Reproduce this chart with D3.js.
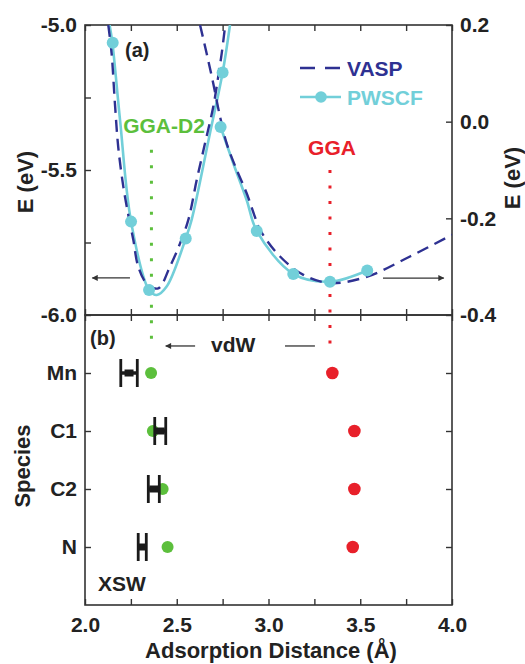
<!DOCTYPE html>
<html><head><meta charset="utf-8">
<script src="https://cdn.jsdelivr.net/npm/d3@7"></script>
<style>
body{margin:0;background:#fff}
svg{display:block}
text{font-family:"Liberation Sans",Arial,Helvetica,sans-serif;font-weight:bold}
</style>
</head><body>
<svg id="c" width="525" height="664"></svg>
<script>
// ---------- data ----------
const xTickVals = [2.0, 2.25, 2.5, 2.75, 3.0, 3.25, 3.5, 3.75, 4.0];
const eLeftTicks = [-6.0, -5.75, -5.5, -5.25, -5.0];
const eRightTicks = [-0.4, -0.2, 0.0, 0.2];
const species = ["Mn", "C1", "C2", "N"];

// (a) GGA-D2 curves (left axis, eV)
const vaspD2X = [2.127, 2.145, 2.163, 2.181, 2.209, 2.236, 2.263, 2.29, 2.336, 2.399, 2.463, 2.518, 2.563, 2.609, 2.654, 2.699, 2.726, 2.745, 2.763];
const vaspD2E = [-5.0, -5.098, -5.27, -5.42, -5.558, -5.655, -5.74, -5.833, -5.891, -5.908, -5.833, -5.753, -5.672, -5.534, -5.408, -5.282, -5.178, -5.098, -5.006];
const pwscfD2LineX = [2.134, 2.149, 2.191, 2.251, 2.349, 2.391, 2.445, 2.549, 2.581, 2.681, 2.750, 2.79];
const pwscfD2LineE = [-5.0, -5.061, -5.328, -5.678, -5.914, -5.931, -5.902, -5.736, -5.672, -5.373, -5.164, -5.0];
const pwscfD2X = [2.151, 2.251, 2.349, 2.549, 2.750];
const pwscfD2E = [-5.061, -5.678, -5.914, -5.736, -5.164];

// (a) GGA curves (right axis, eV)
const vaspGGAX = [2.627, 2.663, 2.699, 2.736, 2.772, 2.827, 2.881, 2.926, 2.954, 3.063, 3.19, 3.335, 3.535, 3.771, 4.0];
const vaspGGAE = [0.2, 0.141, 0.079, 0.010, -0.045, -0.1, -0.148, -0.197, -0.224, -0.279, -0.317, -0.334, -0.321, -0.279, -0.234];
const pwscfGGALineX = [2.739, 2.808, 2.881, 2.936, 3.135, 3.335, 3.538];
const pwscfGGALineE = [-0.011, -0.086, -0.162, -0.226, -0.315, -0.331, -0.308];
const pwscfGGAX = [2.739, 2.936, 3.135, 3.335, 3.538];
const pwscfGGAE = [-0.011, -0.226, -0.315, -0.331, -0.308];

// (b) adsorption distances (Å)
const d2Dist = [2.36, 2.37, 2.423, 2.45];
const ggaDist = [3.348, 3.468, 3.468, 3.459];
const xswDist = [2.24, 2.41, 2.375, 2.312];
const xswErr = [0.045, 0.03, 0.03, 0.022];

// minima markers
const d2Min = 2.362, ggaMin = 3.335;

// ---------- layout ----------
const L = 85, R = 452, T = 25, M = 315, B = 605;
const C_NAVY = "#2e3192", C_CYAN = "#72cfd9", C_GREEN = "#5cbf3c", C_RED = "#e8202a", C_AX = "#333";

const svg = d3.select("#c");
const x = d3.scaleLinear().domain([2, 4]).range([L, R]);
const yL = d3.scaleLinear().domain([-6, -5]).range([M, T]);
const yR = d3.scaleLinear().domain([-0.4, 0.2]).range([M, T]);
const yB = d3.scaleLinear().domain([-1, 4]).range([M, B]);

const defs = svg.append("defs");
defs.append("clipPath").attr("id", "clipA").append("rect")
  .attr("x", L).attr("y", T).attr("width", R - L).attr("height", M - T);
defs.append("marker").attr("id", "arr").attr("viewBox", "0 0 10 10")
  .attr("refX", 9).attr("refY", 5).attr("markerWidth", 9).attr("markerHeight", 6)
  .attr("markerUnits", "userSpaceOnUse").attr("orient", "auto")
  .append("path").attr("d", "M0,0L10,5L0,10Z").attr("fill", C_AX);

const fmt1 = d => d.toFixed(1);
const major = v => Math.abs(v * 2 - Math.round(v * 2)) < 1e-6;
function styleAxis(g) {
  g.select(".domain").remove();
  g.attr("font-size", 21).attr("font-family", "Liberation Sans, Arial, sans-serif")
   .attr("font-weight", "bold").attr("color", "#222");
  g.selectAll(".tick line").attr("stroke", C_AX).attr("stroke-width", 1.4);
}

// x axes
svg.append("g").attr("transform", `translate(0,${T})`)
  .call(d3.axisBottom(x).tickValues(xTickVals).tickSizeInner(6).tickSizeOuter(0).tickFormat(""))
  .call(styleAxis);
svg.append("g").attr("transform", `translate(0,${M})`)
  .call(d3.axisTop(x).tickValues(xTickVals).tickSizeInner(6).tickSizeOuter(0).tickFormat(""))
  .call(styleAxis);
svg.append("g").attr("transform", `translate(0,${M})`)
  .call(d3.axisBottom(x).tickValues(xTickVals).tickSizeInner(6).tickSizeOuter(0).tickFormat(""))
  .call(styleAxis);
svg.append("g").attr("transform", `translate(0,${B})`)
  .call(d3.axisBottom(x).tickValues(xTickVals).tickSizeInner(-6).tickSizeOuter(0).tickPadding(12)
    .tickFormat(d => major(d) ? fmt1(d) : ""))
  .call(styleAxis);

// y axes (a)
svg.append("g").attr("transform", `translate(${L},0)`)
  .call(d3.axisLeft(yL).tickValues(eLeftTicks).tickSizeInner(-6).tickSizeOuter(0).tickPadding(8)
    .tickFormat(d => major(d) ? fmt1(d) : ""))
  .call(styleAxis);
svg.append("g").attr("transform", `translate(${R},0)`)
  .call(d3.axisRight(yR).tickValues(eRightTicks).tickSizeInner(-6).tickSizeOuter(0).tickPadding(8)
    .tickFormat(fmt1))
  .call(styleAxis);

// y axes (b)
svg.append("g").attr("transform", `translate(${L},0)`)
  .call(d3.axisLeft(yB).tickValues(species.map((s, i) => i)).tickSizeInner(-6).tickSizeOuter(0).tickPadding(8)
    .tickFormat(i => species[i]))
  .call(styleAxis);
svg.append("g").attr("transform", `translate(${R},0)`)
  .call(d3.axisRight(yB).tickValues(species.map((s, i) => i)).tickSizeInner(-6).tickSizeOuter(0).tickFormat(""))
  .call(styleAxis);

// frames
svg.append("rect").attr("x", L).attr("y", T).attr("width", R - L).attr("height", M - T)
  .attr("fill", "none").attr("stroke", C_AX).attr("stroke-width", 1.6);
svg.append("rect").attr("x", L).attr("y", M).attr("width", R - L).attr("height", B - M)
  .attr("fill", "none").attr("stroke", C_AX).attr("stroke-width", 1.6);

// axis titles
svg.append("text").attr("transform", "translate(33,182) rotate(-90)").attr("text-anchor", "middle")
  .attr("font-size", 22).attr("fill", "#222").text("E (eV)");
svg.append("text").attr("transform", "translate(520,178) rotate(-90)").attr("text-anchor", "middle")
  .attr("font-size", 22).attr("fill", "#222").text("E (eV)");
svg.append("text").attr("transform", "translate(30,466) rotate(-90)").attr("text-anchor", "middle")
  .attr("font-size", 22).attr("fill", "#222").text("Species");
svg.append("text").attr("x", 271).attr("y", 658).attr("text-anchor", "middle")
  .attr("font-size", 22).attr("fill", "#222").text("Adsorption Distance (Å)");

// dotted minimum markers
const dotted = (xv, y1, y2, col) => svg.append("line")
  .attr("x1", x(xv)).attr("x2", x(xv)).attr("y1", y1).attr("y2", y2)
  .attr("stroke", col).attr("stroke-width", 3).attr("stroke-dasharray", "3,12.5");
dotted(d2Min, yL(-5.43), yB(-0.42), C_GREEN);
dotted(ggaMin, yR(-0.1), yB(-0.42), C_RED);

// curves (a)
const gA = svg.append("g").attr("clip-path", "url(#clipA)");
const lineL = d3.line().x(d => x(d[0])).y(d => yL(d[1])).curve(d3.curveCatmullRom.alpha(0.5));
const lineR = d3.line().x(d => x(d[0])).y(d => yR(d[1])).curve(d3.curveCatmullRom.alpha(0.5));

gA.append("path").datum(d3.zip(pwscfD2LineX, pwscfD2LineE)).attr("d", lineL)
  .attr("fill", "none").attr("stroke", C_CYAN).attr("stroke-width", 2.6);
gA.append("path").datum(d3.zip(pwscfGGALineX, pwscfGGALineE)).attr("d", lineR)
  .attr("fill", "none").attr("stroke", C_CYAN).attr("stroke-width", 2.6);
gA.append("path").datum(d3.zip(vaspD2X, vaspD2E)).attr("d", lineL)
  .attr("fill", "none").attr("stroke", C_NAVY).attr("stroke-width", 2.4).attr("stroke-dasharray", "12,7");
gA.append("path").datum(d3.zip(vaspGGAX, vaspGGAE)).attr("d", lineR)
  .attr("fill", "none").attr("stroke", C_NAVY).attr("stroke-width", 2.4).attr("stroke-dasharray", "12,7");

gA.selectAll("circle.d2").data(d3.zip(pwscfD2X, pwscfD2E)).join("circle").attr("class", "d2")
  .attr("cx", d => x(d[0])).attr("cy", d => yL(d[1])).attr("r", 6).attr("fill", C_CYAN);
gA.selectAll("circle.gga").data(d3.zip(pwscfGGAX, pwscfGGAE)).join("circle").attr("class", "gga")
  .attr("cx", d => x(d[0])).attr("cy", d => yR(d[1])).attr("r", 6).attr("fill", C_CYAN);

// arrows (a)
svg.append("line").attr("x1", x(2.245)).attr("x2", x(2.04)).attr("y1", yL(-5.872)).attr("y2", yL(-5.872))
  .attr("stroke", C_AX).attr("stroke-width", 1.3).attr("marker-end", "url(#arr)");
svg.append("line").attr("x1", x(3.624)).attr("x2", x(3.955)).attr("y1", yR(-0.3235)).attr("y2", yR(-0.3235))
  .attr("stroke", C_AX).attr("stroke-width", 1.3).attr("marker-end", "url(#arr)");

// labels (a)
svg.append("text").attr("x", 125).attr("y", 57).attr("font-size", 20).attr("fill", "#222").text("(a)");
svg.append("text").attr("x", 164).attr("y", 133).attr("text-anchor", "middle").attr("font-size", 21)
  .attr("fill", C_GREEN).text("GGA-D2");
svg.append("text").attr("x", 332).attr("y", 155).attr("text-anchor", "middle").attr("font-size", 21)
  .attr("fill", C_RED).text("GGA");

// legend
svg.append("line").attr("x1", 300).attr("x2", 340).attr("y1", 68).attr("y2", 68)
  .attr("stroke", C_NAVY).attr("stroke-width", 2.4).attr("stroke-dasharray", "15,10");
svg.append("text").attr("x", 347).attr("y", 75.5).attr("font-size", 21).attr("fill", C_NAVY).text("VASP");
svg.append("line").attr("x1", 300).attr("x2", 341).attr("y1", 97).attr("y2", 97)
  .attr("stroke", C_CYAN).attr("stroke-width", 2.6);
svg.append("circle").attr("cx", 321).attr("cy", 97).attr("r", 5.8).attr("fill", C_CYAN);
svg.append("text").attr("x", 347).attr("y", 104.5).attr("font-size", 21).attr("fill", C_CYAN).text("PWSCF");

// panel (b)
svg.selectAll("circle.dft").data(d2Dist).join("circle").attr("class", "dft")
  .attr("cx", d => x(d)).attr("cy", (d, i) => yB(i)).attr("r", 6).attr("fill", C_GREEN);
svg.selectAll("circle.ggab").data(ggaDist).join("circle").attr("class", "ggab")
  .attr("cx", d => x(d)).attr("cy", (d, i) => yB(i)).attr("r", 6.3).attr("fill", C_RED);

const gX = svg.append("g").attr("fill", "#1a1a1a").attr("stroke", "#1a1a1a");
xswDist.forEach((d, i) => {
  const cy = yB(i), lo = x(d - xswErr[i]), hi = x(d + xswErr[i]);
  gX.append("line").attr("x1", lo).attr("x2", hi).attr("y1", cy).attr("y2", cy).attr("stroke-width", 3.5);
  gX.append("line").attr("x1", lo).attr("x2", lo).attr("y1", cy - 14).attr("y2", cy + 14).attr("stroke-width", 2.8);
  gX.append("line").attr("x1", hi).attr("x2", hi).attr("y1", cy - 14).attr("y2", cy + 14).attr("stroke-width", 2.8);
  gX.append("rect").attr("x", x(d) - 4.5).attr("y", cy - 3.5).attr("width", 9).attr("height", 7).attr("stroke", "none");
});

svg.append("text").attr("x", 90).attr("y", 345).attr("font-size", 20).attr("fill", "#222").text("(b)");
svg.append("text").attr("x", 211).attr("y", 352).attr("font-size", 21).attr("fill", "#222").text("vdW");
svg.append("text").attr("x", 98).attr("y", 591).attr("font-size", 21).attr("fill", "#222").text("XSW");
svg.append("line").attr("x1", x(2.6)).attr("x2", x(2.44)).attr("y1", yB(-0.466)).attr("y2", yB(-0.466))
  .attr("stroke", C_AX).attr("stroke-width", 1.3).attr("marker-end", "url(#arr)");
svg.append("line").attr("x1", x(3.09)).attr("x2", x(3.253)).attr("y1", yB(-0.466)).attr("y2", yB(-0.466))
  .attr("stroke", C_AX).attr("stroke-width", 1.3);
</script>
</body></html>
